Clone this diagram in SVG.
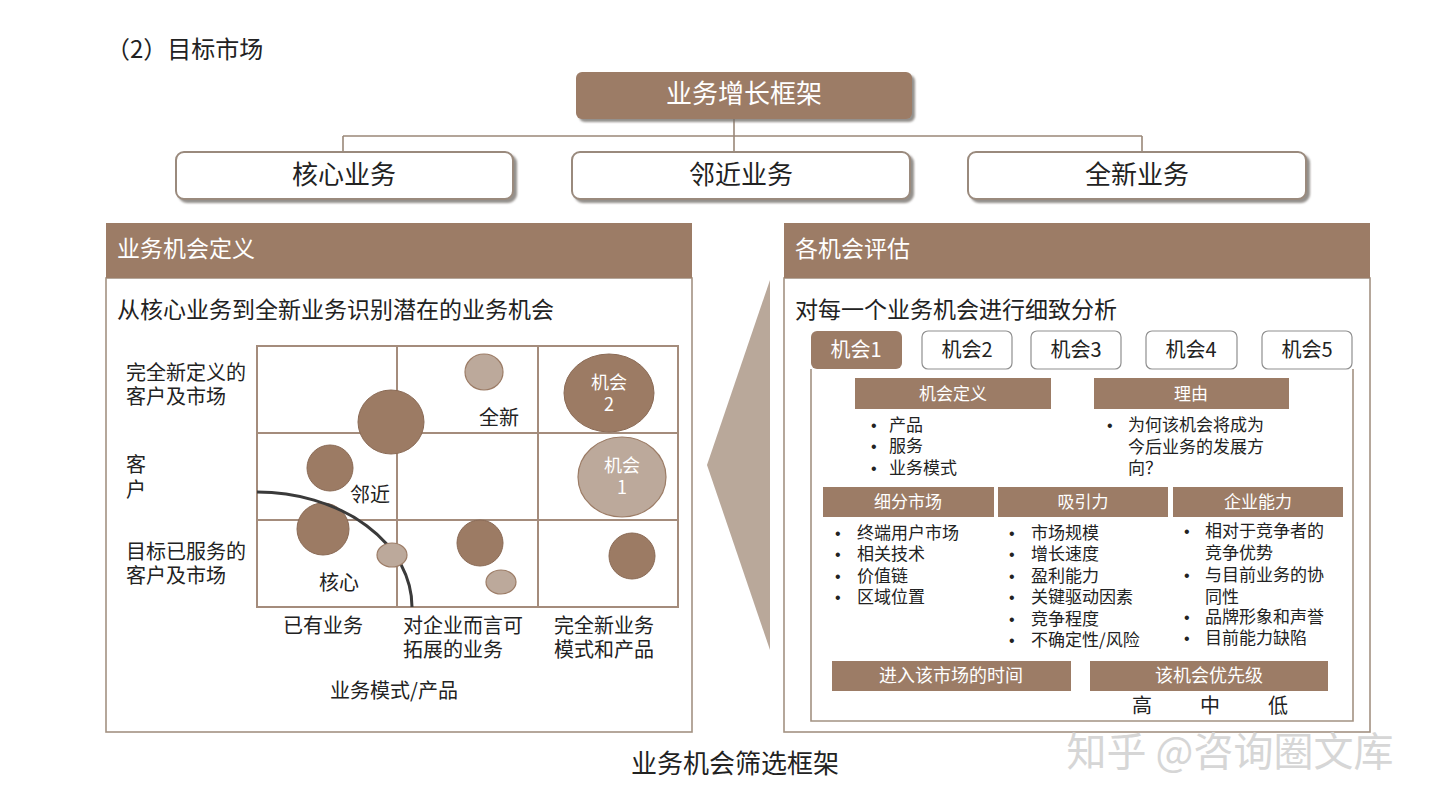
<svg xmlns="http://www.w3.org/2000/svg" width="1440" height="810" viewBox="0 0 1440 810">
<defs>
<filter id="sh" x="-5%" y="-10%" width="115%" height="130%">
<feDropShadow dx="3" dy="3" stdDeviation="1.2" flood-color="#6f6a66" flood-opacity="0.75"/>
</filter>
<style>
text{font-family:"Noto Sans CJK SC","Liberation Sans",sans-serif;fill:#222}
.w{fill:#fff}
.c{text-anchor:middle}
.hdr{fill:#9c7c66}
.frame{fill:#fff;stroke:#a39282;stroke-width:1.6}
.box{fill:#fff;stroke:#9a8a7d;stroke-width:2}
.grid{stroke:#a48c7c;stroke-width:2;fill:none}
.dk{fill:#9c7b64;stroke:#8a6a55;stroke-width:1}
.lt{fill:#bca99b;stroke:#9c7c66;stroke-width:1.2}
.tab{fill:#fff;stroke:#8f8f8f;stroke-width:1.2}
.conn{stroke:#9a8878;stroke-width:1.6;fill:none}
.t17{font-size:17px}
.t20{font-size:20px}
.b{font-family:"Liberation Sans",sans-serif;font-size:16px}
</style>
</defs>
<rect width="1440" height="810" fill="#fff"/>

<text x="106" y="58" style="font-size:24px">（2）目标市场</text>

<g id="connectors">
<path class="conn" d="M734,119 V152 M343,136 H1142 M343,136 V152 M1142,136 V152"/>
</g>

<g id="top">
<rect x="576" y="72" width="336" height="47" rx="6" class="hdr" filter="url(#sh)"/>
<text x="744" y="103" class="w c" style="font-size:26px">业务增长框架</text>
</g>
<g id="core">
<rect x="176" y="152" width="337" height="47" rx="8" class="box" filter="url(#sh)"/>
<text x="344" y="184" class="c" style="font-size:26px">核心业务</text>
</g>
<g id="adjacent">
<rect x="572" y="152" width="338" height="47" rx="8" class="box" filter="url(#sh)"/>
<text x="741" y="184" class="c" style="font-size:26px">邻近业务</text>
</g>
<g id="new">
<rect x="968" y="152" width="338" height="47" rx="8" class="box" filter="url(#sh)"/>
<text x="1137" y="184" class="c" style="font-size:26px">全新业务</text>
</g>

<g id="left-panel">
<rect x="106" y="278" width="586" height="454" class="frame"/>
<rect x="106" y="223" width="586" height="55" class="hdr"/>
<text x="117" y="257" class="w" style="font-size:23px">业务机会定义</text>
<text x="117" y="318" style="font-size:23px">从核心业务到全新业务识别潜在的业务机会</text>
<rect x="257" y="346" width="421" height="261" class="grid"/>
<path class="grid" d="M397,346 V607 M538,346 V607 M257,433 H678 M257,520 H678"/>
<ellipse cx="484" cy="372" rx="19" ry="18" class="lt"/>
<ellipse cx="391" cy="422" rx="33" ry="32" class="dk"/>
<ellipse cx="609" cy="393" rx="45" ry="39" class="dk"/>
<ellipse cx="622" cy="477" rx="44" ry="40" class="lt"/>
<ellipse cx="330" cy="468" rx="23" ry="23" class="dk"/>
<ellipse cx="323" cy="529" rx="26" ry="26" class="dk"/>
<ellipse cx="480" cy="543" rx="23" ry="23" class="dk"/>
<ellipse cx="632" cy="556" rx="23" ry="23" class="dk"/>
<ellipse cx="501" cy="582" rx="15" ry="12" class="lt"/>
<path d="M257,492 A155,115 0 0 1 412,607" fill="none" stroke="#3a3a3a" stroke-width="3"/>
<ellipse cx="392" cy="555" rx="15" ry="12" class="lt"/>
<text class="w c" style="font-size:18px"><tspan x="609" y="389">机会</tspan><tspan x="609" y="411">2</tspan></text>
<text class="w c" style="font-size:18px"><tspan x="622" y="472">机会</tspan><tspan x="622" y="494">1</tspan></text>
<text x="499" y="425" class="c t20">全新</text>
<text x="370" y="502" class="c t20">邻近</text>
<text x="339" y="590" class="c t20">核心</text>
<text class="t20"><tspan x="126" y="380">完全新定义的</tspan><tspan x="126" y="404">客户及市场</tspan></text>
<text class="t20"><tspan x="126" y="472">客</tspan><tspan x="126" y="497">户</tspan></text>
<text class="t20"><tspan x="126" y="559">目标已服务的</tspan><tspan x="126" y="583">客户及市场</tspan></text>
<text x="323" y="633" class="c t20">已有业务</text>
<text class="t20"><tspan x="403" y="633">对企业而言可</tspan><tspan x="403" y="657">拓展的业务</tspan></text>
<text class="t20"><tspan x="554" y="633">完全新业务</tspan><tspan x="554" y="657">模式和产品</tspan></text>
<text x="394" y="698" class="c t20">业务模式/产品</text>
</g>

<g id="arrow">
<polygon points="770,280 707,465 770,650" fill="#b9a89a"/>
</g>

<g id="right-panel">
<rect x="784" y="278" width="586" height="454" class="frame"/>
<rect x="784" y="223" width="586" height="55" class="hdr"/>
<text x="795" y="257" class="w" style="font-size:23px">各机会评估</text>
<text x="795" y="318" style="font-size:23px">对每一个业务机会进行细致分析</text>
<path d="M811,369 V721 H1353 V369" fill="none" stroke="#a39282" stroke-width="1.6"/>
<g id="tabs">
<rect x="811" y="331" width="91" height="38" rx="6" class="hdr"/>
<text x="856" y="357" class="w c t20">机会1</text>
<rect x="922" y="331" width="90" height="38" rx="6" class="tab"/>
<text x="967" y="357" class="c t20">机会2</text>
<rect x="1031" y="331" width="90" height="38" rx="6" class="tab"/>
<text x="1076" y="357" class="c t20">机会3</text>
<rect x="1146" y="331" width="91" height="38" rx="6" class="tab"/>
<text x="1191" y="357" class="c t20">机会4</text>
<rect x="1262" y="331" width="90" height="38" rx="6" class="tab"/>
<text x="1307" y="357" class="c t20">机会5</text>
</g>
<g id="def">
<rect x="855" y="378" width="196" height="31" class="hdr"/>
<text x="953" y="400" class="w c t17">机会定义</text>
<text class="t17"><tspan class="b" x="871" y="431">•</tspan><tspan x="889">产品</tspan><tspan class="b" x="871" y="452">•</tspan><tspan x="889">服务</tspan><tspan class="b" x="871" y="474">•</tspan><tspan x="889">业务模式</tspan></text>
</g>
<g id="reason">
<rect x="1094" y="378" width="195" height="31" class="hdr"/>
<text x="1191" y="400" class="w c t17">理由</text>
<text class="t17"><tspan class="b" x="1107" y="431">•</tspan><tspan x="1128">为何该机会将成为</tspan><tspan x="1128" y="453">今后业务的发展方</tspan><tspan x="1128" y="474">向？</tspan></text>
</g>
<g id="segment">
<rect x="823" y="487" width="171" height="30" class="hdr"/>
<text x="908" y="508" class="w c t17">细分市场</text>
<text class="t17"><tspan class="b" x="835" y="539">•</tspan><tspan x="857">终端用户市场</tspan><tspan class="b" x="835" y="560">•</tspan><tspan x="857">相关技术</tspan><tspan class="b" x="835" y="582">•</tspan><tspan x="857">价值链</tspan><tspan class="b" x="835" y="603">•</tspan><tspan x="857">区域位置</tspan></text>
</g>
<g id="attract">
<rect x="998" y="487" width="170" height="30" class="hdr"/>
<text x="1083" y="508" class="w c t17">吸引力</text>
<text class="t17"><tspan class="b" x="1009" y="539">•</tspan><tspan x="1031">市场规模</tspan><tspan class="b" x="1009" y="560">•</tspan><tspan x="1031">增长速度</tspan><tspan class="b" x="1009" y="582">•</tspan><tspan x="1031">盈利能力</tspan><tspan class="b" x="1009" y="603">•</tspan><tspan x="1031">关键驱动因素</tspan><tspan class="b" x="1009" y="625">•</tspan><tspan x="1031">竞争程度</tspan><tspan class="b" x="1009" y="646">•</tspan><tspan x="1031">不确定性/风险</tspan></text>
</g>
<g id="capability">
<rect x="1173" y="487" width="170" height="30" class="hdr"/>
<text x="1258" y="508" class="w c t17">企业能力</text>
<text class="t17"><tspan class="b" x="1184" y="537">•</tspan><tspan x="1205">相对于竞争者的</tspan><tspan x="1205" y="559">竞争优势</tspan><tspan class="b" x="1184" y="581">•</tspan><tspan x="1205">与目前业务的协</tspan><tspan x="1205" y="603">同性</tspan><tspan class="b" x="1184" y="623">•</tspan><tspan x="1205">品牌形象和声誉</tspan><tspan class="b" x="1184" y="644">•</tspan><tspan x="1205">目前能力缺陷</tspan></text>
</g>
<g id="timing">
<rect x="832" y="661" width="239" height="30" class="hdr"/>
<text x="951" y="682" class="w c" style="font-size:18px">进入该市场的时间</text>
</g>
<g id="priority">
<rect x="1090" y="661" width="238" height="30" class="hdr"/>
<text x="1209" y="682" class="w c" style="font-size:18px">该机会优先级</text>
<text class="t20"><tspan x="1132" y="713">高</tspan><tspan x="1200">中</tspan><tspan x="1268">低</tspan></text>
</g>
</g>

<text x="735" y="773" class="c" style="font-size:26px">业务机会筛选框架</text>
<text x="1230" y="766" class="c" style="font-size:40px;fill:#d6d6d6">知乎 @咨询圈文库</text>
</svg>
